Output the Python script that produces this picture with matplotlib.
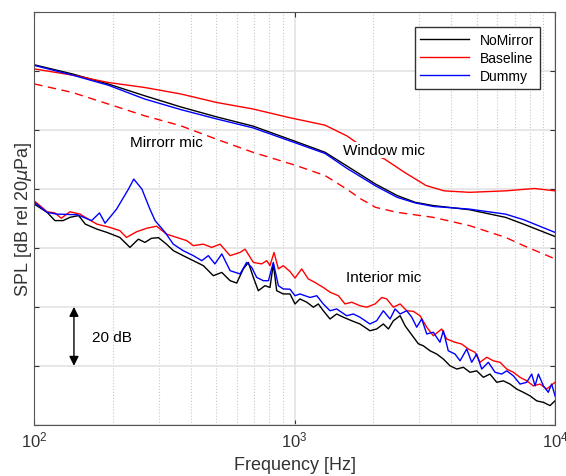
import matplotlib
matplotlib.use('agg')
import matplotlib.pyplot as plt

plt.rcParams['font.family'] = ['Liberation Sans', 'DejaVu Sans']

# window mic curves (freq Hz, SPL dB)
win_f = [100, 140, 192, 265, 365, 502, 691, 1013, 1308, 1584, 2045, 2477,
         2905, 3409, 4691, 6457, 7574, 10000]
win_nomirror = [122.2, 119.1, 115.7, 111.7, 107.9, 104.5, 101.4, 96.1, 92.5, 87.9,
                81.7, 77.8, 75.5, 74.4, 73.0, 70.4, 68.1, 63.9]
win_dummy = [122.0, 118.7, 115.3, 110.6, 107.0, 103.8, 100.8, 95.6, 92.1, 87.1,
             81.1, 77.2, 75.3, 74.1, 73.2, 71.5, 69.6, 65.3]

win_base_f = [100, 140, 192, 265, 365, 502, 691, 950, 1308, 1584, 1800, 2000,
              2215, 2640, 3198, 3751, 4691, 6457, 8335, 10000]
win_base = [120.8, 118.7, 116.2, 114.5, 112.3, 109.4, 107.2, 104.3, 101.7, 98.1,
            94.7, 91.9, 90.2, 85.7, 81.2, 79.4, 78.9, 79.4, 80.2, 79.4]

# mirror mic, baseline (dashed)
mir_f = [100, 140, 192, 265, 365, 502, 691, 1013, 1308, 1584, 1800, 2045, 2477,
         3409, 4691, 6457, 7574, 10000]
mir_base = [115.7, 112.8, 108.9, 104.9, 101.5, 96.9, 92.5, 88.0, 84.6, 80.0,
            76.6, 73.8, 72.1, 70.4, 67.6, 63.6, 60.8, 56.3]

# interior mic
int_nm_f = [100, 112, 120, 129, 137, 148, 157, 174, 190, 213,
            233, 251, 266, 282, 300, 322, 342, 373, 408, 446,
            487, 525, 565, 599, 635, 664, 694, 725, 769, 804,
            828, 853, 904, 960, 1003, 1048, 1113, 1180, 1233, 1288,
            1367, 1450, 1538, 1656, 1782, 1946, 2065, 2191, 2291, 2394,
            2541, 2655, 2817, 2985, 3120, 3311, 3512, 3725, 3952, 4194,
            4446, 4716, 5003, 5305, 5627, 5972, 6330, 6717, 7125, 7557,
            8018, 8506, 9022, 9568, 10000]
int_nm = [74.9, 72.1, 69.3, 69.3, 70.4, 71.0, 68.1, 66.4, 65.3, 63.6,
          60.2, 63.0, 61.9, 63.3, 63.5, 61.3, 59.1, 57.4, 55.7, 54.0,
          50.6, 51.7, 48.9, 48.1, 52.9, 55.1, 50.0, 45.5, 47.2, 46.6,
          54.6, 45.5, 44.4, 44.4, 41.0, 42.7, 41.6, 39.9, 41.0, 38.7,
          35.9, 37.6, 36.5, 35.3, 34.2, 31.9, 32.5, 34.2, 32.5, 35.3,
          37.0, 33.6, 30.5, 27.5, 26.8, 25.1, 24.0, 22.3, 20.0, 18.9,
          19.5, 17.8, 18.3, 16.1, 17.2, 14.4, 14.9, 13.8, 12.1, 11.0,
          9.8, 8.1, 7.6, 6.5, 8.1]

int_dm_f = [100, 112, 122, 146, 166, 178, 187, 207, 230, 241,
            259, 278, 291, 318, 342, 373, 408, 440, 466, 494,
            525, 565, 617, 654, 684, 715, 758, 793, 828, 866,
            904, 960, 1003, 1048, 1146, 1216, 1288, 1367, 1450, 1585,
            1680, 1782, 1946, 2065, 2191, 2325, 2430, 2541, 2694, 2817,
            2943, 3076, 3216, 3409, 3615, 3725, 3890, 4129, 4319, 4580,
            4786, 5003, 5230, 5545, 5884, 6238, 6524, 6918, 7338, 7787,
            8136, 8380, 8630, 9022, 9420, 9707, 10000]
int_dm = [75.5, 72.1, 71.5, 71.3, 69.3, 71.9, 68.4, 73.2, 80.0, 83.4,
          80.0, 73.2, 69.3, 65.3, 61.3, 59.1, 57.4, 55.7, 57.4, 54.6,
          58.0, 52.3, 51.2, 55.1, 53.4, 50.0, 48.9, 48.9, 55.1, 47.2,
          46.1, 46.0, 43.8, 44.4, 43.2, 43.8, 41.0, 38.7, 39.3, 37.0,
          37.6, 36.5, 34.2, 35.3, 38.7, 35.9, 39.3, 37.6, 38.7, 36.5,
          33.1, 35.9, 30.8, 31.4, 28.0, 31.9, 25.1, 24.0, 21.7, 25.7,
          21.2, 24.0, 18.9, 21.2, 17.8, 17.2, 18.3, 16.6, 13.8, 14.4,
          17.2, 13.2, 17.2, 13.2, 11.0, 13.8, 9.8]

int_bl_f = [100, 112, 120, 127, 137, 150, 157, 174, 195, 213,
            226, 247, 270, 295, 322, 352, 385, 408, 446, 480,
            517, 565, 617, 645, 694, 747, 781, 804, 833, 866,
            904, 960, 1003, 1064, 1128, 1197, 1288, 1367, 1472, 1561,
            1656, 1782, 1892, 2036, 2160, 2257, 2394, 2541, 2694, 2856,
            3031, 3216, 3409, 3671, 3838, 4129, 4382, 4645, 4928, 5152,
            5468, 5796, 6150, 6524, 6918, 7338, 7787, 8254, 8757, 9290,
            10000]
int_bl = [76.0, 72.3, 71.9, 70.1, 72.3, 71.5, 70.4, 68.1, 67.0, 65.9,
          63.6, 65.5, 66.7, 67.4, 64.7, 63.6, 62.5, 60.8, 61.3, 60.2,
          61.3, 57.4, 58.5, 59.6, 55.1, 54.6, 55.7, 54.0, 58.5, 52.9,
          54.0, 52.0, 49.8, 52.9, 49.5, 48.3, 46.6, 45.0, 43.8, 41.0,
          41.6, 40.4, 39.9, 41.0, 43.2, 42.7, 39.9, 41.0, 38.7, 38.5,
          37.0, 33.1, 30.2, 32.5, 29.1, 28.0, 27.4, 25.7, 24.6, 21.2,
          22.9, 21.7, 21.2, 18.9, 17.8, 16.1, 14.9, 13.2, 13.8, 12.1,
          14.4]

y_ticks = [0, 20, 40, 60, 80, 100, 120, 140]

fig = plt.figure(figsize=(5.66, 4.77), dpi=100)
ax = fig.add_axes([0.0606, 0.1075, 0.92, 0.8645])

ax.plot(win_f, win_nomirror, color='k', lw=1, label='NoMirror')
ax.plot(win_base_f, win_base, color='r', lw=1, label='Baseline')
ax.plot(win_f, win_dummy, color='b', lw=1, label='Dummy')
ax.plot(mir_f, mir_base, color='r', lw=1, ls=(0, (6, 4)))
ax.plot(int_nm_f, int_nm, color='k', lw=1)
ax.plot(int_bl_f, int_bl, color='r', lw=1)
ax.plot(int_dm_f, int_dm, color='b', lw=1)

ax.set_xscale('log')
ax.set_xlim(100, 10000)
ax.set_ylim(0, 140)
ax.set_yticks(y_ticks)
ax.set_yticklabels([])
ax.grid(True, which='major', color='#e3e3e3', lw=1.2, ls='-')
ax.grid(True, which='minor', axis='x', color='#c8c8c8', lw=0.8, ls=':')
ax.set_axisbelow(True)
ax.tick_params(which='both', direction='in', top=True, right=True,
               colors='#333333', labelsize=12)
ax.tick_params(which='minor', length=0)
for s in ax.spines.values():
    s.set_color('#555555')

ax.set_xlabel('Frequency [Hz]', fontsize=13, color='#333333', labelpad=5)
ax.set_ylabel(r'SPL [dB rel 20$\mu$Pa]', fontsize=13, color='#333333', labelpad=-3)

box = dict(facecolor='white', edgecolor='none', pad=1)
ax.text(323, 95.9, 'Mirrorr mic', fontsize=11, ha='center', va='center', bbox=box)
ax.text(2213, 93.3, 'Window mic', fontsize=11, ha='center', va='center', bbox=box)
ax.text(2193, 50.0, 'Interior mic', fontsize=11, ha='center', va='center', bbox=box)
ax.text(166, 29.9, '20 dB', fontsize=11, ha='left', va='center')
ax.annotate('', xy=(142, 20), xytext=(142, 40),
            arrowprops=dict(arrowstyle='<|-|>', color='k', lw=1, mutation_scale=14,
                            shrinkA=0, shrinkB=0))

leg = ax.legend(loc='upper right', fontsize=10, fancybox=False, framealpha=1,
                handlelength=3.5, borderpad=0.4, labelspacing=0.3,
                borderaxespad=0, bbox_to_anchor=(0.971, 0.964))
leg.get_frame().set_edgecolor('#333333')
leg.get_frame().set_linewidth(1)

fig.savefig('out.png', dpi=100)
